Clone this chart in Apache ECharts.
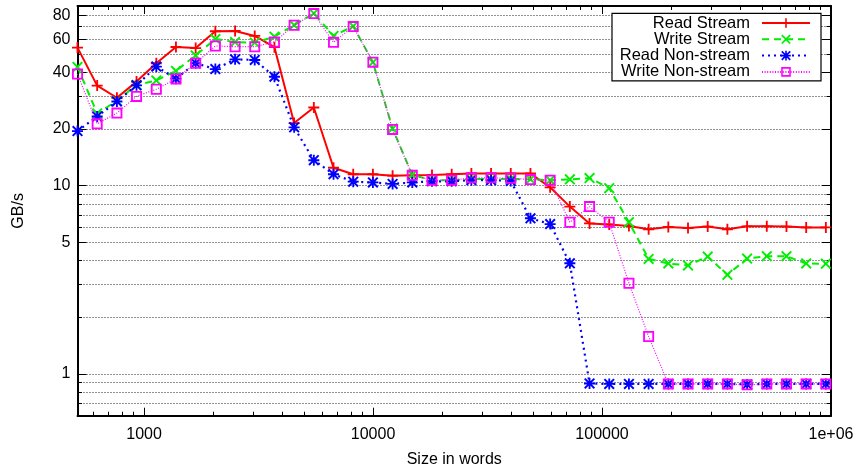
<!DOCTYPE html>
<html><head><meta charset="utf-8">
<script src="https://cdn.jsdelivr.net/npm/echarts@6/dist/echarts.min.js"></script>
<style>html,body{margin:0;padding:0;background:#fff}#c{width:858px;height:469px}</style>
</head><body><div id="c"></div>
<script>
const sizes = [512, 624, 761, 927, 1131, 1378, 1680, 2048, 2497, 3043, 3710, 4522, 5513, 6720, 8192, 9986, 12173, 14839, 18089, 22051, 26880, 32768, 39945, 48693, 59357, 72357, 88204, 107520, 131072, 159779, 194770, 237424, 289424, 352809, 430080, 524288, 639116, 779078, 949699];
const readStream = [54.1, 34.0, 29.3, 35.7, 44.7, 54.5, 53.8, 66.1, 66.3, 62.4, 54.4, 21.5, 26.0, 12.45, 11.5, 11.5, 11.3, 11.35, 11.4, 11.5, 11.6, 11.6, 11.6, 11.6, 9.8, 7.74, 6.3, 6.22, 6.1, 5.86, 6.03, 5.96, 6.06, 5.86, 6.08, 6.08, 6.06, 6.0, 6.0];
const writeStream = [42.7, 24.2, 28.2, 34.3, 36.2, 40.7, 49.2, 60.1, 57.9, 57.5, 61.8, 71.3, 82.3, 62.4, 70.3, 45.2, 20.1, 11.4, 10.7, 10.7, 10.85, 10.85, 10.85, 10.8, 10.7, 10.8, 10.97, 9.7, 6.4, 4.08, 3.86, 3.77, 4.2, 3.36, 4.1, 4.22, 4.22, 3.86, 3.85];
const readNonStream = [19.5, 23.3, 28.0, 34.1, 42.9, 37.0, 44.7, 41.6, 46.9, 46.5, 37.9, 20.4, 13.65, 11.5, 10.5, 10.4, 10.22, 10.4, 10.55, 10.55, 10.7, 10.7, 10.6, 6.71, 6.25, 3.87, 0.89, 0.885, 0.885, 0.885, 0.885, 0.885, 0.885, 0.885, 0.88, 0.885, 0.885, 0.885, 0.885];
const writeNonStream = [39.2, 21.3, 24.3, 29.8, 32.5, 36.9, 44.7, 55.2, 54.7, 54.7, 57.9, 71.1, 82.0, 57.7, 70.0, 45.3, 19.9, 11.35, 10.7, 10.7, 11.0, 11.0, 10.95, 10.77, 10.7, 6.39, 7.74, 6.39, 3.03, 1.58, 0.885, 0.885, 0.885, 0.885, 0.875, 0.885, 0.885, 0.885, 0.885];
const seriesNames = ['Read Stream', 'Write Stream', 'Read Non-stream', 'Write Non-stream'];
const xMajorTicks = [1000, 10000, 100000, 1000000];
const xMinorTicks = [600, 700, 800, 900, 2000, 3000, 4000, 5000, 6000, 7000, 8000, 9000, 20000, 30000, 40000, 50000, 60000, 70000, 80000, 90000, 200000, 300000, 400000, 500000, 600000, 700000, 800000, 900000];
const yLabelTicks = [1, 5, 10, 20, 40, 60, 80];
const yGridTicks = [0.7, 0.8, 0.9, 1, 2, 3, 4, 5, 6, 7, 8, 9, 10, 20, 30, 40, 50, 60, 70, 80];

const FONT = "'Liberation Sans', Arial, Helvetica, sans-serif";
const colors = ['#ff0000', '#00ee00', '#0000ff', '#ff00ff'];
const lineStyles = [
  {width: 2, type: 'solid'},
  {width: 2, type: [7, 5]},
  {width: 2.2, type: [2, 4]},
  {width: 1.2, type: [1, 1.6]}
];
const SYM_PLUS = 'path://M5,0H7V5H12V7H7V12H5V7H0V5H5Z';
const SYM_X = 'path://M1.5,0L6,4.5L10.5,0L12,1.5L7.5,6L12,10.5L10.5,12L6,7.5L1.5,12L0,10.5L4.5,6L0,1.5Z';
const SYM_STAR = 'path://M5,0H7V5H12V7H7V12H5V7H0V5H5Z M1.5,0L6,4.5L10.5,0L12,1.5L7.5,6L12,10.5L10.5,12L6,7.5L1.5,12L0,10.5L4.5,6L0,1.5Z';
const SYM_BOX = 'path://M0,0H12V12H0Z M2,2V10H10V2Z';
const symbols = [SYM_PLUS, SYM_X, SYM_STAR, SYM_BOX];
const symSizes = [11, 11, 11, 11];
const valueSets = [readStream, writeStream, readNonStream, writeNonStream];

const chart = echarts.init(document.getElementById('c'), null, {renderer: 'canvas'});

const xBase = {type: 'log', logBase: 10, min: 512, max: 1000000, gridIndex: 0, splitLine: {show: false}};
const yBase = {type: 'log', logBase: 10, min: 0.6, max: 90, gridIndex: 0};

const rowTops = [14.5, 30.8, 47.1, 63.4];

const option = {
  animation: false,
  backgroundColor: '#fff',
  textStyle: {fontFamily: FONT},
  grid: {left: 77.5, right: 27, top: 6, bottom: 53.3, containLabel: false, outerBoundsMode: 'none'},
  graphic: [{
    type: 'rect', z: 5, shape: {x: 612, y: 13.3, width: 209, height: 67.5},
    style: {fill: '#fff', stroke: '#000', lineWidth: 1.2}
  }],
  legend: seriesNames.map((n, i) => ({
    data: [n], right: 47, top: rowTops[i], orient: 'horizontal', align: 'right',
    itemWidth: 48, itemHeight: 12, padding: 0, z: 10, selectedMode: false,
    textStyle: {fontSize: 16.5, fontFamily: FONT, color: '#000', lineHeight: 16, padding: [0, 7, 0, 0]}
  })),
  xAxis: [
    Object.assign({}, xBase, {
      position: 'bottom',
      name: 'Size in words', nameLocation: 'middle', nameGap: 36,
      nameTextStyle: {fontSize: 16, fontFamily: FONT, color: '#000'},
      axisLine: {show: true, lineStyle: {color: '#000', width: 2}},
      axisTick: {show: true, inside: true, length: 8, customValues: xMajorTicks, lineStyle: {color: '#000', width: 1}},
      axisLabel: {show: true, customValues: xMajorTicks, margin: 11, fontSize: 16, fontFamily: FONT, color: '#000',
        formatter: v => (Math.round(v) >= 1000000 ? '1e+06' : String(Math.round(v)))}
    }),
    Object.assign({}, xBase, {
      position: 'bottom',
      axisLine: {show: false},
      axisTick: {show: true, inside: true, length: 4, customValues: xMinorTicks, lineStyle: {color: '#000', width: 1}},
      axisLabel: {show: false}
    }),
    Object.assign({}, xBase, {
      position: 'top',
      axisLine: {show: true, lineStyle: {color: '#000', width: 2}},
      axisTick: {show: true, inside: true, length: 8, customValues: xMajorTicks, lineStyle: {color: '#000', width: 1}},
      axisLabel: {show: false}
    }),
    Object.assign({}, xBase, {
      position: 'top',
      axisLine: {show: false},
      axisTick: {show: true, inside: true, length: 4, customValues: xMinorTicks, lineStyle: {color: '#000', width: 1}},
      axisLabel: {show: false}
    })
  ],
  yAxis: [
    Object.assign({}, yBase, {
      position: 'left',
      name: 'GB/s', nameLocation: 'middle', nameGap: 51,
      nameTextStyle: {fontSize: 16, fontFamily: FONT, color: '#000'},
      axisLine: {show: true, lineStyle: {color: '#000', width: 2}},
      axisTick: {show: true, inside: true, length: 9, customValues: yLabelTicks, lineStyle: {color: '#000', width: 1}},
      axisLabel: {show: true, customValues: yLabelTicks, margin: 7, fontSize: 16, fontFamily: FONT, color: '#000',
        formatter: v => String(Math.round(v))},
      splitLine: {show: false}
    }),
    Object.assign({}, yBase, {
      position: 'left',
      axisLine: {show: false},
      axisTick: {show: true, inside: true, length: 4.5, customValues: yGridTicks, lineStyle: {color: '#000', width: 1}},
      axisLabel: {show: false},
      splitLine: {show: true, lineStyle: {color: '#222', width: 1, type: [1, 2]}}
    }),
    Object.assign({}, yBase, {
      position: 'right',
      axisLine: {show: true, lineStyle: {color: '#000', width: 2}},
      axisTick: {show: true, inside: true, length: 9, customValues: yLabelTicks, lineStyle: {color: '#000', width: 1}},
      axisLabel: {show: false},
      splitLine: {show: false}
    }),
    Object.assign({}, yBase, {
      position: 'right',
      axisLine: {show: false},
      axisTick: {show: true, inside: true, length: 4.5, customValues: yGridTicks, lineStyle: {color: '#000', width: 1}},
      axisLabel: {show: false},
      splitLine: {show: false}
    })
  ],
  series: seriesNames.map((n, i) => ({
    name: n, type: 'line', xAxisIndex: 0, yAxisIndex: 0,
    data: sizes.map((x, k) => [x, valueSets[i][k]]),
    symbol: symbols[i], symbolSize: symSizes[i], showSymbol: true,
    itemStyle: {color: colors[i]},
    lineStyle: Object.assign({color: colors[i]}, lineStyles[i]),
    emphasis: {disabled: true},
    z: 2 + i
  }))
};
chart.setOption(option);
</script>
</body></html>
